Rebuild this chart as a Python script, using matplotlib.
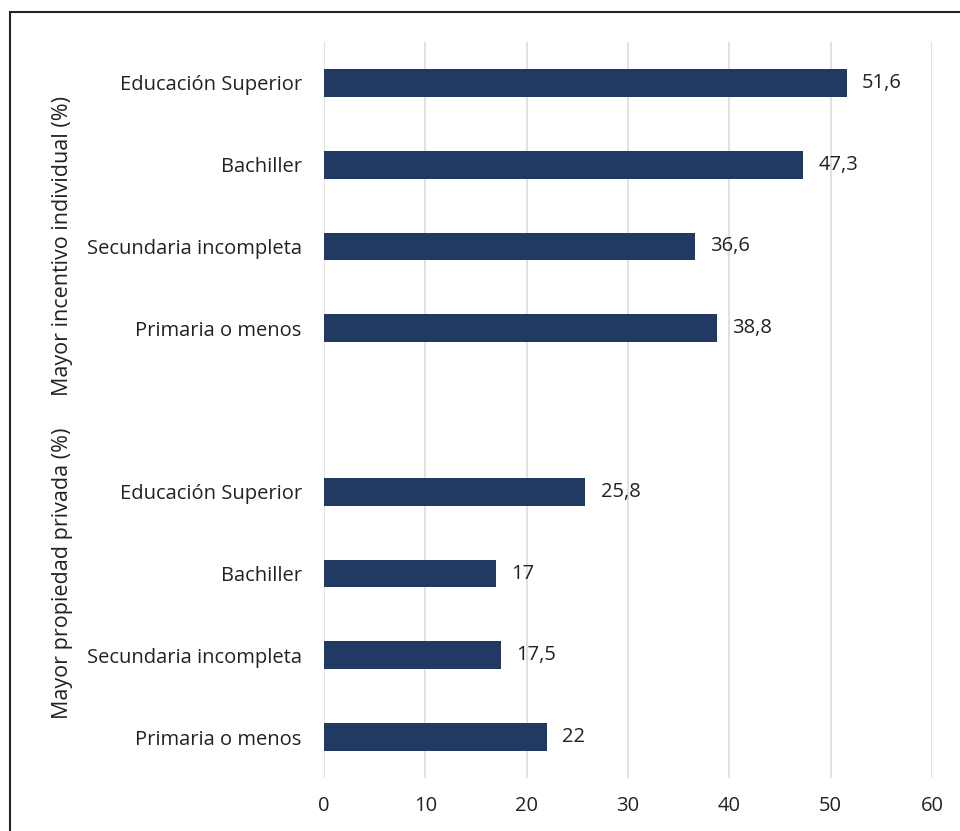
import matplotlib.pyplot as plt
from matplotlib.patches import Rectangle

plt.rcParams['font.family'] = ['Open Sans', 'DejaVu Sans']

grupos = ['Mayor incentivo individual (%)', 'Mayor propiedad privada (%)']
niveles = ['Educación Superior', 'Bachiller', 'Secundaria incompleta', 'Primaria o menos']
incentivo = [51.6, 47.3, 36.6, 38.8]
propiedad = [25.8, 17, 17.5, 22]
etiquetas_inc = ['51,6', '47,3', '36,6', '38,8']
etiquetas_prop = ['25,8', '17', '17,5', '22']

color_barra = '#213A64'
color_texto = '#222222'

fig = plt.figure(figsize=(9.6, 8.31), dpi=100)
ax = fig.add_axes([0.3375, 0.0638, 0.6333, 0.8857])

pos1 = [0, 1, 2, 3]
pos2 = [5, 6, 7, 8]
ax.barh(pos1, incentivo, height=0.34, color=color_barra)
ax.barh(pos2, propiedad, height=0.34, color=color_barra)

for p, v, t in zip(pos1 + pos2, incentivo + propiedad, etiquetas_inc + etiquetas_prop):
    ax.text(v + 1.5, p, t, va='center', ha='left', fontsize=14.5, color=color_texto)

ax.set_ylim(8.5, -0.5)
ax.set_xlim(0, 60)
ax.set_xticks(range(0, 61, 10))
ax.set_yticks(pos1 + pos2)
ax.set_yticklabels(niveles + niveles)
ax.tick_params(axis='y', length=0, pad=16, labelsize=14.5, labelcolor=color_texto)
ax.tick_params(axis='x', length=0, pad=13, labelsize=14.5, labelcolor=color_texto)
for s in ax.spines.values():
    s.set_visible(False)
ax.grid(axis='x', color='#dedede', linewidth=1.3)
ax.set_axisbelow(True)

# etiquetas de grupo
for g, yc in zip(grupos, [2.0, 6.0]):
    ax.text(-25.8, yc, g, rotation=90, va='center', ha='center', fontsize=15.5,
            color=color_texto)

fig.patches.append(Rectangle((10 / 960, -0.1), 1.2, 0.1 + 1 - 12 / 831, transform=fig.transFigure,
                             fill=False, edgecolor=color_texto, linewidth=1.5))

fig.savefig('out.png', dpi=100)
